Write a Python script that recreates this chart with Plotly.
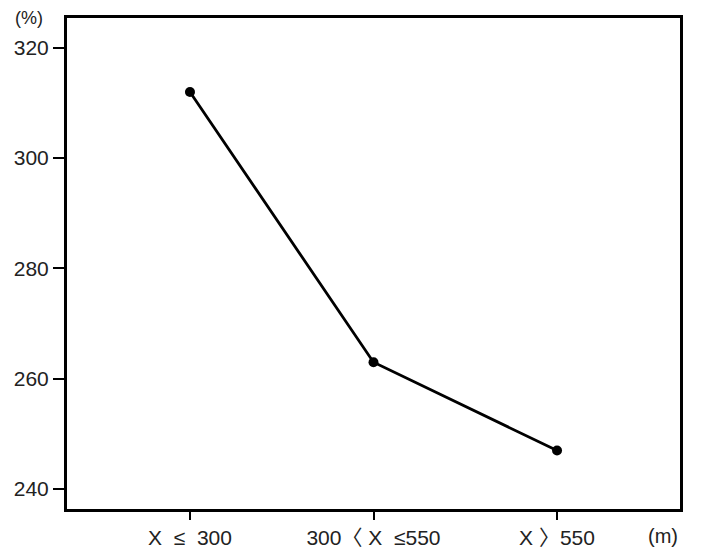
import plotly.graph_objects as go

categories = ["X  ≤  300", "300〈 X  ≤550", "X 〉550"]
values = [312, 263, 247]
y_ticks = [240, 260, 280, 300, 320]

fig = go.Figure()
fig.add_trace(go.Scatter(
    x=list(range(len(categories))), y=values, mode="lines+markers",
    line=dict(color="black", width=2.8),
    marker=dict(color="black", size=10),
    showlegend=False,
))

# page body has an 8px margin, so the figure is placed at (8, 8)
fig.update_layout(
    width=697, height=543,
    margin=dict(l=59, r=25, t=10, b=42),
    paper_bgcolor="white", plot_bgcolor="white",
    font=dict(family="Liberation Sans, Arial, Noto Sans CJK JP", size=21, color="#222"),
    xaxis=dict(
        range=[-0.67, 2.67], tickmode="array",
        tickvals=list(range(len(categories))), ticktext=categories,
        showline=True, linecolor="black", linewidth=3, mirror=True,
        ticks="outside", ticklen=8, tickwidth=1.5, tickcolor="black",
        showgrid=False, zeroline=False, automargin=False,
        tickfont=dict(size=21),
    ),
    yaxis=dict(
        range=[236.4, 325.4], tickmode="array", tickvals=y_ticks,
        showline=True, linecolor="black", linewidth=3, mirror=True,
        ticks="outside", ticklen=11, tickwidth=1.5, tickcolor="black",
        showgrid=False, zeroline=False, automargin=False,
        tickfont=dict(size=21),
    ),
    annotations=[
        dict(text="(%)", xref="paper", yref="paper", x=-0.088, y=1.0,
             xanchor="left", yanchor="bottom", showarrow=False,
             font=dict(size=18, color="#222"), yshift=-12),
        dict(text="(m)", xref="paper", yref="paper", x=1.0, y=0,
             xanchor="right", yanchor="top", showarrow=False,
             font=dict(size=20, color="#222"), yshift=-14),
    ],
)

fig.write_html("out.html")
